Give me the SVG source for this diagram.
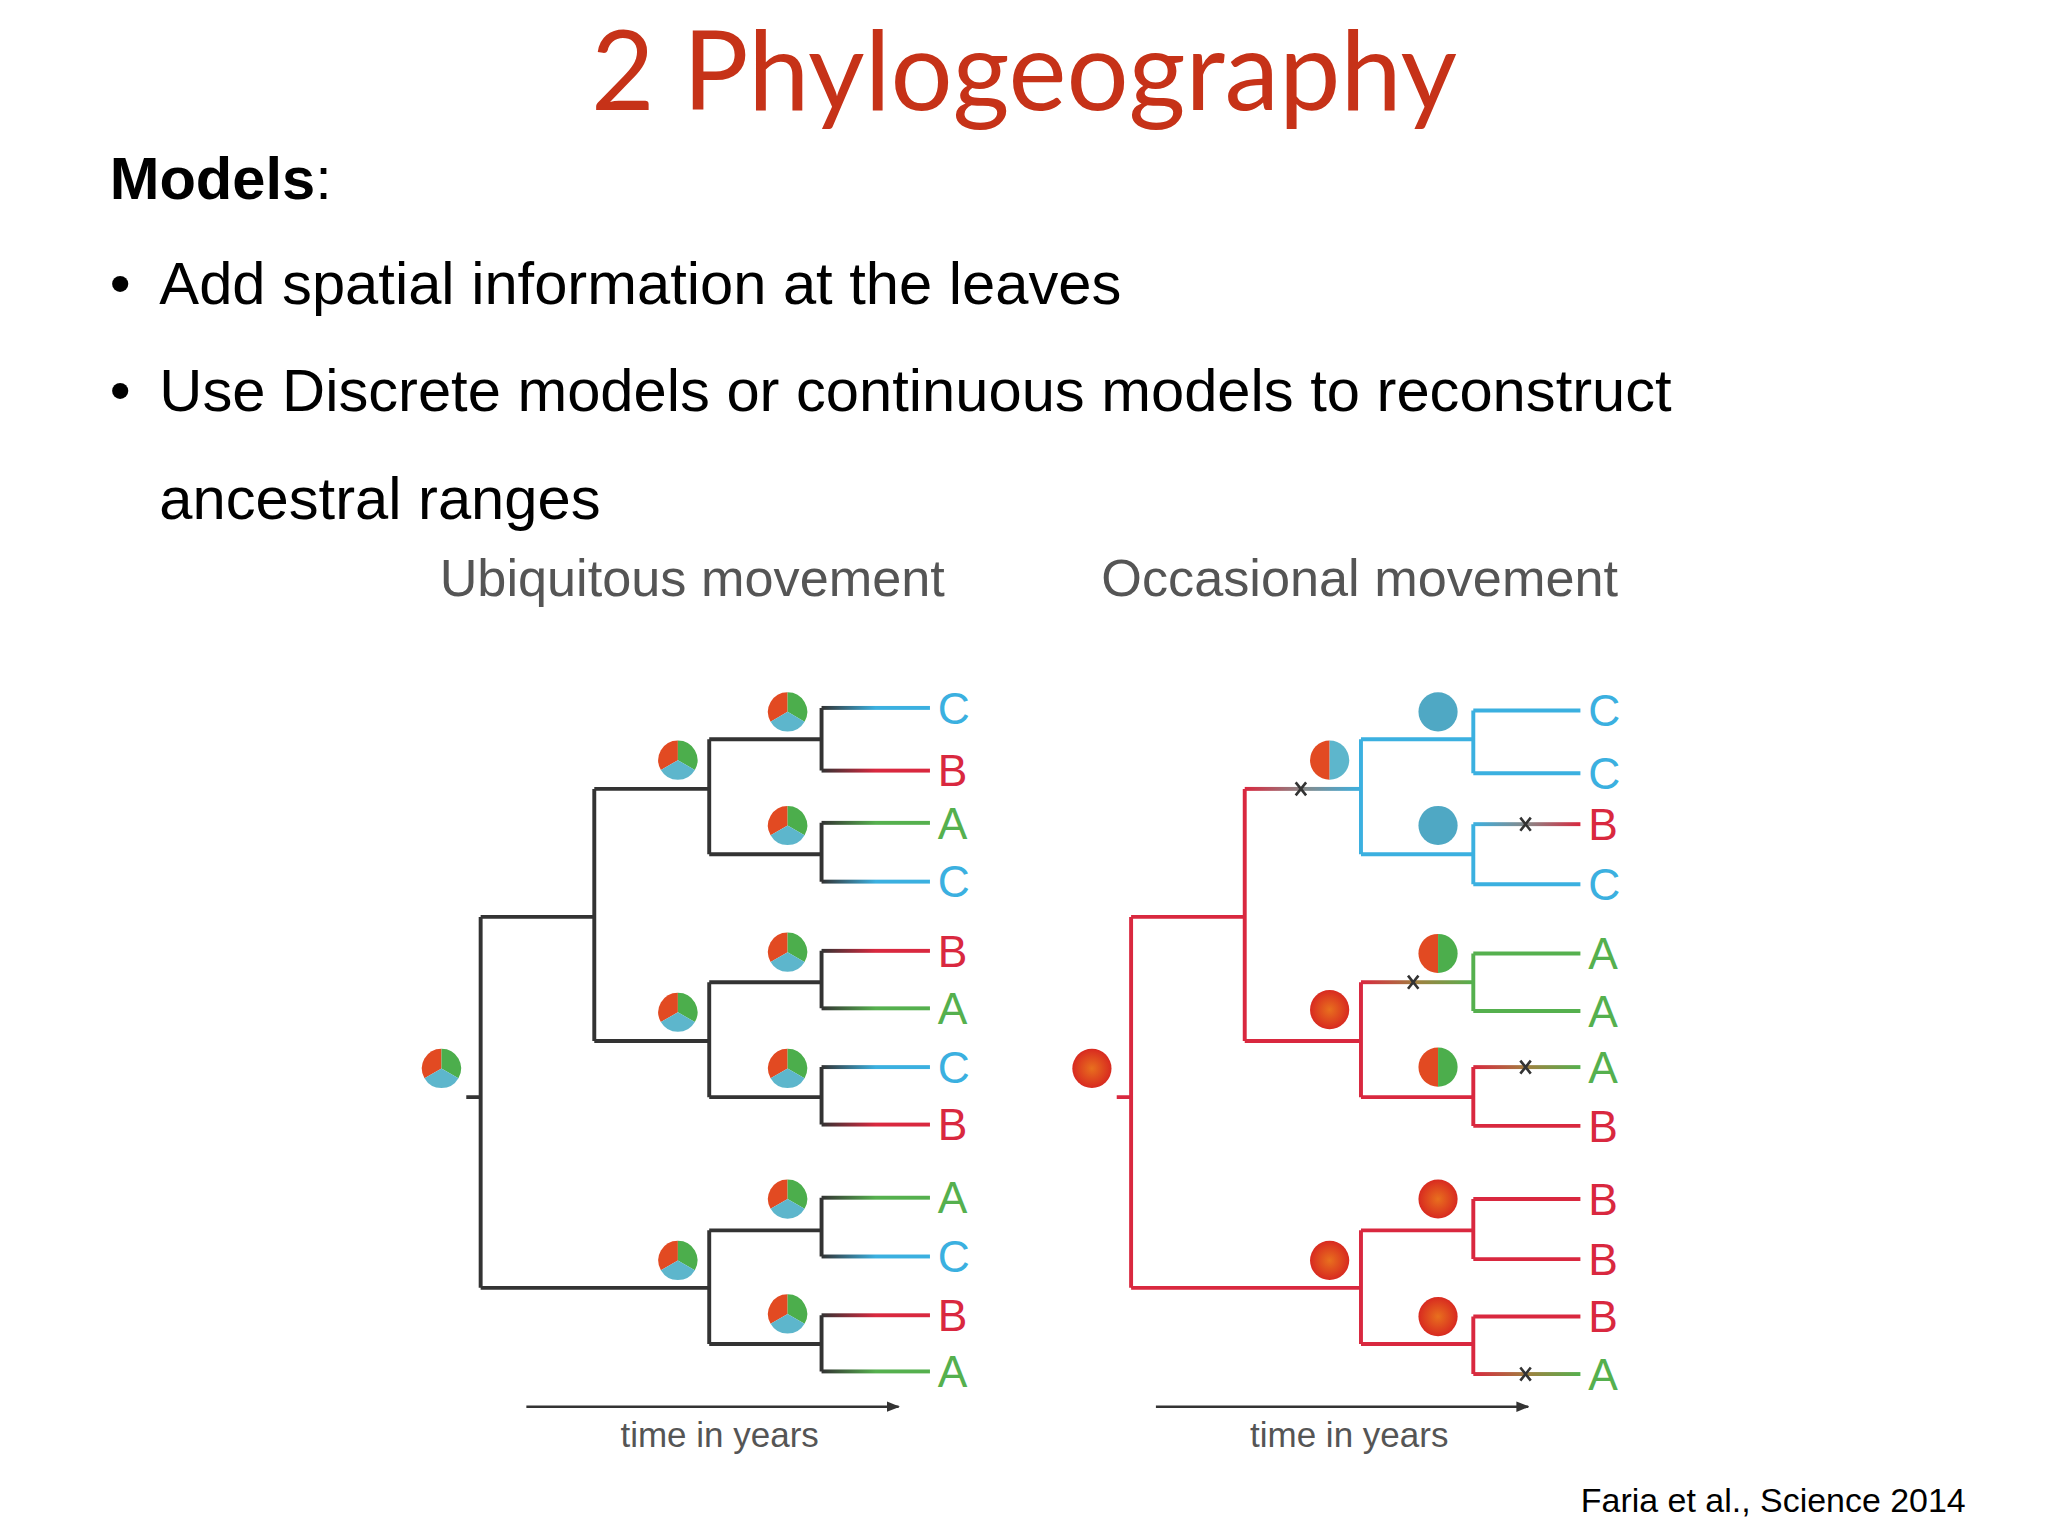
<svg xmlns="http://www.w3.org/2000/svg" xmlns:xlink="http://www.w3.org/1999/xlink" width="2048" height="1536" viewBox="0 0 2048 1536">
<style>
.k{stroke:#333;stroke-width:3;fill:none}
.r{stroke:#d9283f;stroke-width:3;fill:none}
.b{stroke:#3bb0e0;stroke-width:3;fill:none}
.g{stroke:#55b04e;stroke-width:3;fill:none}
.x{stroke:#333;stroke-width:2}
.lab{font-family:"Liberation Sans",Arial,sans-serif;font-size:34px}
.sub{font-family:"Liberation Sans",Arial,sans-serif;font-size:40px;fill:#555}
.t{font-family:"Liberation Sans",Arial,sans-serif;font-size:26.8px;fill:#555}
.body{font-family:"Liberation Sans",Arial,sans-serif;font-size:45.7px;fill:#000}
</style>
<defs>
<linearGradient id="kb" x1="0" x2="1"><stop offset="0" stop-color="#333"/><stop offset="0.5" stop-color="#3bb0e0"/></linearGradient>
<linearGradient id="kr" x1="0" x2="1"><stop offset="0" stop-color="#333"/><stop offset="0.5" stop-color="#d9283f"/></linearGradient>
<linearGradient id="kg" x1="0" x2="1"><stop offset="0" stop-color="#333"/><stop offset="0.5" stop-color="#55b04e"/></linearGradient>
<linearGradient id="rb" x1="0" x2="1"><stop offset="0" stop-color="#d9283f"/><stop offset="0.5" stop-color="#888"/><stop offset="1" stop-color="#3bb0e0"/></linearGradient>
<linearGradient id="br" x1="0" x2="1"><stop offset="0" stop-color="#3bb0e0"/><stop offset="0.5" stop-color="#888"/><stop offset="1" stop-color="#d9283f"/></linearGradient>
<linearGradient id="rg" x1="0" x2="1"><stop offset="0" stop-color="#d9283f"/><stop offset="0.5" stop-color="#a08040"/><stop offset="1" stop-color="#55b04e"/></linearGradient>
<radialGradient id="redball"><stop offset="0" stop-color="#e8701e"/><stop offset="1" stop-color="#d82a20"/></radialGradient>
<g id="pie3">
<path d="M0,0 L0,-15 A15,15 0 0 0 -13,7.5 Z" fill="#e24a22"/>
<path d="M0,0 L0,-15 A15,15 0 0 1 13,7.5 Z" fill="#4cae4c"/>
<path d="M0,0 L13,7.5 A15,15 0 0 1 -13,7.5 Z" fill="#5db6cc"/>
</g>
<g id="pieRB"><path d="M0,-15 A15,15 0 0 0 0,15 Z" fill="#e24a22"/><path d="M0,-15 A15,15 0 0 1 0,15 Z" fill="#5db6cc"/></g>
<g id="pieRG"><path d="M0,-15 A15,15 0 0 0 0,15 Z" fill="#e24a22"/><path d="M0,-15 A15,15 0 0 1 0,15 Z" fill="#4cae4c"/></g>
<circle id="pieB" r="15" fill="#4fa8c4"/>
<circle id="pieR" r="15" fill="url(#redball)"/>
<marker id="arr" markerWidth="10" markerHeight="8" refX="9" refY="4" orient="auto" markerUnits="userSpaceOnUse"><path d="M0,0 L10,4 L0,8 Z" fill="#333"/></marker>
</defs>
<g transform="scale(1.30612)">
<text x="784" y="84" text-anchor="middle" font-family="Lato,'Open Sans',sans-serif" font-size="84" fill="#c63218">2 Phylogeography</text>
<text class="body" x="84" y="152"><tspan font-weight="bold">Models</tspan>:</text>
<text class="body" x="84" y="233">•</text>
<text class="body" x="122" y="233">Add spatial information at the leaves</text>
<text class="body" x="84" y="315">•</text>
<text class="body" x="122" y="315">Use Discrete models or continuous models to reconstruct</text>
<text class="body" x="122" y="397">ancestral ranges</text>
<text class="sub" x="530" y="456" text-anchor="middle">Ubiquitous movement</text>
<text class="sub" x="1041" y="456" text-anchor="middle">Occasional movement</text>

<g id="connectors">
<path class="k" d="M357,840 H368 M368,702 V986 M368,702 H455 M455,604 V797 M455,604 H543 M455,797 H543 M368,986 H543 M543,566 V654 M543,752 V840 M543,942 V1029 M543,566 H629 M543,654 H629 M543,752 H629 M543,840 H629 M543,942 H629 M543,1029 H629 M629,542 V590 M629,630 V675 M629,728 V772 M629,817 V861 M629,917 V962 M629,1007 V1050"/>
<rect x="629" y="540.5" width="83" height="3" fill="url(#kb)"/>
<rect x="629" y="588.5" width="83" height="3" fill="url(#kr)"/>
<rect x="629" y="628.5" width="83" height="3" fill="url(#kg)"/>
<rect x="629" y="673.5" width="83" height="3" fill="url(#kb)"/>
<rect x="629" y="726.5" width="83" height="3" fill="url(#kr)"/>
<rect x="629" y="770.5" width="83" height="3" fill="url(#kg)"/>
<rect x="629" y="815.5" width="83" height="3" fill="url(#kb)"/>
<rect x="629" y="859.5" width="83" height="3" fill="url(#kr)"/>
<rect x="629" y="915.5" width="83" height="3" fill="url(#kg)"/>
<rect x="629" y="960.5" width="83" height="3" fill="url(#kb)"/>
<rect x="629" y="1005.5" width="83" height="3" fill="url(#kr)"/>
<rect x="629" y="1048.5" width="83" height="3" fill="url(#kg)"/>
<path class="r" d="M855,840 H866 M866,702 V986 M866,702 H953 M953,604 V797 M953,797 H1042 M866,986 H1042 M1042,752 V840 M1042,942 V1029 M1042,840 H1128 M1042,942 H1128 M1042,1029 H1128 M1128,817 V862 M1128,862 H1210 M1128,918 V964 M1128,1008 V1052 M1128,918 H1210 M1128,964 H1210 M1128,1008 H1210"/>
<rect x="953" y="602.5" width="89" height="3" fill="url(#rb)"/>
<path class="b" d="M1042,566 V654 M1042,566 H1128 M1042,654 H1128 M1128,544 V592 M1128,631 V677 M1128,544 H1210 M1128,592 H1210 M1128,677 H1210"/>
<rect x="1128" y="629.5" width="82" height="3" fill="url(#br)"/>
<rect x="1042" y="750.5" width="86" height="3" fill="url(#rg)"/>
<path class="g" d="M1128,730 V774 M1128,730 H1210 M1128,774 H1210"/>
<rect x="1128" y="815.5" width="82" height="3" fill="url(#rg)"/>
<rect x="1128" y="1050.5" width="82" height="3" fill="url(#rg)"/>
<path class="x" d="M992,599 l8,10 M1000,599 l-8,10 M1164,626 l8,10 M1172,626 l-8,10 M1078,747 l8,10 M1086,747 l-8,10 M1164,812 l8,10 M1172,812 l-8,10 M1164,1047 l8,10 M1172,1047 l-8,10"/>
<path d="M403,1077 H688" stroke="#333" stroke-width="2" marker-end="url(#arr)"/>
<path d="M885,1077 H1170" stroke="#333" stroke-width="2" marker-end="url(#arr)"/>
</g>

<g id="pies-left">
<use xlink:href="#pie3" x="603" y="545"/><use xlink:href="#pie3" x="519" y="582"/><use xlink:href="#pie3" x="603" y="632"/>
<use xlink:href="#pie3" x="603" y="729"/><use xlink:href="#pie3" x="519" y="775"/><use xlink:href="#pie3" x="603" y="818"/>
<use xlink:href="#pie3" x="603" y="918"/><use xlink:href="#pie3" x="519" y="965"/><use xlink:href="#pie3" x="603" y="1006"/>
<use xlink:href="#pie3" x="338" y="818"/>
</g>
<g id="pies-right">
<use xlink:href="#pieB" x="1101" y="545"/><use xlink:href="#pieRB" x="1018" y="582"/><use xlink:href="#pieB" x="1101" y="632"/>
<use xlink:href="#pieRG" x="1101" y="730"/><use xlink:href="#pieR" x="1018" y="773"/><use xlink:href="#pieRG" x="1101" y="817"/>
<use xlink:href="#pieR" x="1101" y="918"/><use xlink:href="#pieR" x="1018" y="965"/><use xlink:href="#pieR" x="1101" y="1008"/>
<use xlink:href="#pieR" x="836" y="818"/>
</g>

<g id="labels-left" class="lab">
<text x="718" y="554" fill="#3bb0e0">C</text><text x="718" y="602" fill="#d9283f">B</text><text x="718" y="642" fill="#55b04e">A</text><text x="718" y="687" fill="#3bb0e0">C</text>
<text x="718" y="740" fill="#d9283f">B</text><text x="718" y="784" fill="#55b04e">A</text><text x="718" y="829" fill="#3bb0e0">C</text><text x="718" y="873" fill="#d9283f">B</text>
<text x="718" y="929" fill="#55b04e">A</text><text x="718" y="974" fill="#3bb0e0">C</text><text x="718" y="1019" fill="#d9283f">B</text><text x="718" y="1062" fill="#55b04e">A</text>
</g>
<g id="labels-right" class="lab">
<text x="1216" y="556" fill="#3bb0e0">C</text><text x="1216" y="604" fill="#3bb0e0">C</text><text x="1216" y="643" fill="#d9283f">B</text><text x="1216" y="689" fill="#3bb0e0">C</text>
<text x="1216" y="742" fill="#55b04e">A</text><text x="1216" y="786" fill="#55b04e">A</text><text x="1216" y="829" fill="#55b04e">A</text><text x="1216" y="874" fill="#d9283f">B</text>
<text x="1216" y="930" fill="#d9283f">B</text><text x="1216" y="976" fill="#d9283f">B</text><text x="1216" y="1020" fill="#d9283f">B</text><text x="1216" y="1064" fill="#55b04e">A</text>
</g>
<text class="t" x="551" y="1108" text-anchor="middle">time in years</text>
<text class="t" x="1033" y="1108" text-anchor="middle">time in years</text>
<text x="1505" y="1158" text-anchor="end" font-family="'Liberation Sans',Arial,sans-serif" font-size="26" fill="#000">Faria et al., Science 2014</text>
</g>
</svg>
